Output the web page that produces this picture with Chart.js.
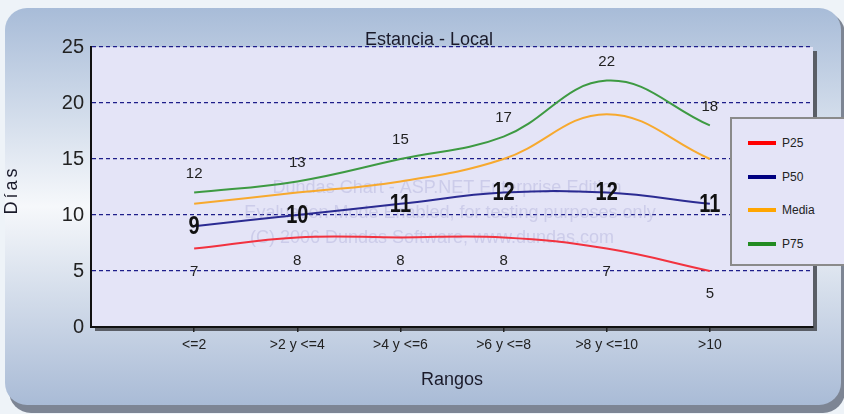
<!DOCTYPE html>
<html>
<head>
<meta charset="utf-8">
<script src="https://cdn.jsdelivr.net/npm/chart.js@4"></script>
<style>
  html, body { margin: 0; padding: 0; background: #eef3f8; overflow: hidden; }
  #wrap { position: relative; width: 844px; height: 414px; }
  #legend {
    position: absolute; left: 730px; top: 117px; width: 124px; height: 149px;
    background: #e4e4f7; border: 2px solid #8a8a8a; box-sizing: border-box;
    font: 12px "Liberation Sans", Arial, sans-serif; color: #222;
  }
  #legend .row { position: absolute; left: 16px; height: 14px; }
  #legend .swatch { position: absolute; left: 0; top: 5px; width: 28px; height: 4px; }
  #legend .label { position: absolute; left: 34px; top: 0; line-height: 14px; }
</style>
</head>
<body>
<div id="wrap">
  <canvas id="chart" width="844" height="414"></canvas>
  <div id="legend"></div>
</div>
<script>
// ===== Data =====
const categories = ["<=2", ">2 y <=4", ">4 y <=6", ">6 y <=8", ">8 y <=10", ">10"];
const p25 = [7, 8, 8, 8, 7, 5];
const p50 = [9, 10, 11, 12, 12, 11];
const media = [11, 12, 13, 15, 19, 15];
const p75 = [12, 13, 15, 17, 22, 18];
const yTicks = [0, 5, 10, 15, 20, 25];

const FONT = '"Liberation Sans", Arial, sans-serif';

function points(values) {
  return values.map((v, i) => ({ x: i + 1, y: v }));
}

// ===== Panel + plot background =====
const backgroundPlugin = {
  id: "panelBg",
  beforeDraw(chart) {
    const ctx = chart.ctx;
    const a = chart.chartArea;
    ctx.save();
    // panel shadow
    ctx.fillStyle = "#7d8594";
    ctx.beginPath();
    ctx.roundRect(9, 12, 836, 401, 22);
    ctx.fill();
    // panel
    const g = ctx.createLinearGradient(0, 8, 0, 405);
    g.addColorStop(0, "#a8bcd8");
    g.addColorStop(0.5, "#f6f8fb");
    g.addColorStop(1, "#a9bbd6");
    ctx.fillStyle = g;
    ctx.beginPath();
    ctx.roundRect(5, 8, 836, 397, 22);
    ctx.fill();
    // plot area shadow
    ctx.fillStyle = "#5a5e66";
    ctx.fillRect(a.left + 4, a.top + 4, a.right - a.left, a.bottom - a.top);
    ctx.fillStyle = "#e4e4f7";
    ctx.fillRect(a.left, a.top, a.right - a.left, a.bottom - a.top);
    ctx.restore();
  },
  beforeDatasetsDraw(chart) {
    // evaluation watermark
    const ctx = chart.ctx;
    ctx.save();
    ctx.fillStyle = "rgba(160,160,210,0.35)";
    ctx.font = "18px " + FONT;
    ctx.textAlign = "center";
    ctx.textBaseline = "middle";
    ctx.fillText("Dundas Chart - ASP.NET Enterprise Edition", 447, 188);
    ctx.fillText("Evaluation Mode Enabled, for testing purposes only", 450, 213);
    ctx.fillText("(C) 2006 Dundas Software, www.dundas.com", 432, 238);
    ctx.restore();
  }
};

// ===== Point labels, titles =====
const labelPlugin = {
  id: "pointLabels",
  afterDatasetsDraw(chart) {
    const ctx = chart.ctx;
    ctx.textAlign = "center";
    ctx.textBaseline = "middle";
    chart.data.datasets.forEach((ds, di) => {
      if (!ds.labelPos) return;
      const meta = chart.getDatasetMeta(di);
      meta.data.forEach((pt, i) => {
        const v = ds.data[i].y;
        ctx.save();
        if (ds.labelPos === "center") {
          // condensed bold label on the line
          ctx.translate(pt.x, pt.y + 1);
          ctx.scale(0.8, 1);
          ctx.font = "bold 25px " + FONT;
          ctx.fillStyle = "#111";
          ctx.fillText(v, 0, 0);
        } else {
          ctx.font = "15px " + FONT;
          ctx.fillStyle = "#222";
          ctx.fillText(v, pt.x, ds.labelPos === "above" ? pt.y - 19 : pt.y + 23);
        }
        ctx.restore();
      });
    });
  },
  afterDraw(chart) {
    const ctx = chart.ctx;
    ctx.save();
    ctx.fillStyle = "#1a1a2a";
    ctx.textAlign = "center";
    ctx.textBaseline = "middle";
    ctx.font = "18px " + FONT;
    ctx.fillText("Estancia - Local", 429, 40);
    ctx.fillText("Rangos", 452, 380);
    ctx.translate(12, 191);
    ctx.rotate(-Math.PI / 2);
    ctx.letterSpacing = "3px";
    ctx.font = "18px " + FONT;
    ctx.fillText("Días", 1, 0);
    ctx.restore();
  }
};

const datasets = [
  { label: "P25", data: points(p25), borderColor: "#f2323f", legendColor: "#ff0000", labelPos: "below" },
  { label: "P50", data: points(p50), borderColor: "#2b2b92", legendColor: "#000080", labelPos: "center" },
  { label: "Media", data: points(media), borderColor: "#f7a92e", legendColor: "#ffa500" },
  { label: "P75", data: points(p75), borderColor: "#3d9a42", legendColor: "#228b22", labelPos: "above" }
].map(d => Object.assign(d, { borderWidth: 2, tension: 0.4, pointRadius: 0, fill: false }));

new Chart(document.getElementById("chart"), {
  type: "line",
  data: { datasets },
  options: {
    responsive: false,
    animation: false,
    layout: { padding: { left: 0, top: 47, right: 31, bottom: 0 } },
    plugins: { legend: { display: false }, tooltip: { enabled: false } },
    scales: {
      x: {
        type: "linear",
        min: 0,
        max: 7,
        afterBuildTicks(scale) {
          scale.ticks = categories.map((c, i) => ({ value: i + 1 }));
        },
        afterFit(scale) { scale.height = 87; },
        ticks: {
          callback: v => categories[v - 1],
          color: "#222",
          font: { family: FONT, size: 14 },
          padding: 5,
          maxRotation: 0,
          autoSkip: false
        },
        grid: { drawOnChartArea: false, drawTicks: true, tickLength: 5, color: "#222", lineWidth: 1.5 },
        border: { color: "#111", width: 2 }
      },
      y: {
        min: 0,
        max: 25,
        afterBuildTicks(scale) {
          scale.ticks = yTicks.map(v => ({ value: v }));
        },
        afterFit(scale) { scale.width = 91; },
        ticks: { color: "#222", font: { family: FONT, size: 20 }, padding: 7 },
        grid: {
          drawTicks: false,
          color: ctx => ctx.tick.value === 0 ? "rgba(0,0,0,0)" : "#1e1e8a",
          lineWidth: 1.3
        },
        border: { color: "#111", width: 2, dash: [4, 3] }
      }
    }
  },
  plugins: [backgroundPlugin, labelPlugin]
});

// ===== Legend =====
const legend = document.getElementById("legend");
datasets.forEach((d, i) => {
  const row = document.createElement("div");
  row.className = "row";
  row.style.top = (17 + i * 33.5) + "px";
  row.innerHTML = '<span class="swatch" style="background:' + d.legendColor + '"></span><span class="label">' + d.label + "</span>";
  legend.appendChild(row);
});
</script>
</body>
</html>
